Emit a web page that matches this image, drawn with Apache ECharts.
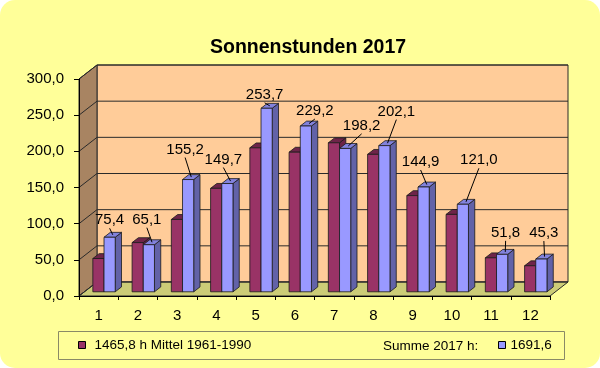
<!DOCTYPE html>
<html><head><meta charset="utf-8">
<script src="https://cdn.jsdelivr.net/npm/echarts@6/dist/echarts.min.js"></script>
<style>html,body{margin:0;padding:0;background:#fff}#c{width:600px;height:368px}</style>
</head><body><div id="c"></div>
<script>
const categories = ['1','2','3','4','5','6','7','8','9','10','11','12'];
const mean19611990 = [46, 68, 100, 143, 199, 193, 206, 190, 133, 107, 47, 36];
const sun2017 = [75.4, 65.1, 155.2, 149.7, 253.7, 229.2, 198.2, 202.1, 144.9, 121.0, 51.8, 45.3];
const yTicks = [0, 50, 100, 150, 200, 250, 300];
const seriesNames = ['1465,8 h Mittel 1961-1990', '1691,6'];
const sumLabel = 'Summe 2017 h:';
const titleText = 'Sonnenstunden 2017';
// manual label placement (pixel shift from the bar top), as in the original chart
const labelShift = [[0,-17],[-2,-25],[-3,-30],[-4,-24],[-2,-13.5],[9,-15],[16.5,-22.6],[12,-34],[-3,-25],[16,-44],[3.5,-21.5],[2.5,-26]];

const FONT = '"Liberation Sans", Arial, Helvetica, sans-serif';
const DEPTH = [18, 14];
const BAR_F0 = 0.3, BAR_F1 = 0.65, BAR_W = 0.285;
const LINE = '#2a2a2a';
const fmt = v => v.toFixed(1).replace('.', ',');

function renderWalls(params, api) {
  const bw = api.size([1, 0])[0];
  const n = categories.length;
  const L = api.coord([0, 0])[0] - bw / 2;
  const R = api.coord([n - 1, 0])[0] + bw / 2;
  const y0 = api.coord([0, yTicks[0]])[1];
  const yT = api.coord([0, yTicks[yTicks.length - 1]])[1];
  const dx = DEPTH[0], dy = DEPTH[1];
  const ch = [];
  ch.push({type: 'polygon', shape: {points: [[L + dx, yT - dy], [R + dx, yT - dy], [R + dx, y0 - dy], [L + dx, y0 - dy]]}, style: {fill: '#FFCC99', stroke: LINE, lineWidth: 1}});
  ch.push({type: 'polygon', shape: {points: [[L, y0], [L, yT], [L + dx, yT - dy], [L + dx, y0 - dy]]}, style: {fill: '#A88462', stroke: LINE, lineWidth: 1}});
  ch.push({type: 'polygon', shape: {points: [[L, y0], [R, y0], [R + dx, y0 - dy], [L + dx, y0 - dy]]}, style: {fill: '#CCCC77', stroke: LINE, lineWidth: 1}});
  yTicks.forEach(t => {
    const y = api.coord([0, t])[1];
    ch.push({type: 'line', shape: {x1: L, y1: y, x2: L + dx, y2: y - dy}, style: {stroke: LINE, lineWidth: 1}});
    ch.push({type: 'line', shape: {x1: L + dx, y1: y - dy, x2: R + dx, y2: y - dy}, style: {stroke: LINE, lineWidth: 1}});
  });
  return {type: 'group', children: ch};
}

function makeBarRender(side, front, topC, sideC, withLabels) {
  return function (params, api) {
    const i = api.value(0), v = api.value(1);
    const top = api.coord([i, v]);
    const base = api.coord([i, 0]);
    const bw = api.size([1, 0])[0];
    const w = bw * BAR_W;
    const sx = DEPTH[0] * BAR_F0, sy = DEPTH[1] * BAR_F0;
    const ddx = DEPTH[0] * (BAR_F1 - BAR_F0), ddy = DEPTH[1] * (BAR_F1 - BAR_F0);
    const x0 = top[0] + sx + (side < 0 ? -w : 0);
    const x1 = x0 + w;
    const yt = top[1] - sy, yb = base[1] - sy;
    const st = {stroke: '#1a1a1a', lineWidth: 0.8};
    const ch = [
      {type: 'polygon', shape: {points: [[x1, yt], [x1 + ddx, yt - ddy], [x1 + ddx, yb - ddy], [x1, yb]]}, style: Object.assign({fill: sideC}, st)},
      {type: 'polygon', shape: {points: [[x0, yt], [x1, yt], [x1 + ddx, yt - ddy], [x0 + ddx, yt - ddy]]}, style: Object.assign({fill: topC}, st)},
      {type: 'rect', shape: {x: x0, y: yt, width: w, height: yb - yt}, style: Object.assign({fill: front}, st)}
    ];
    if (withLabels) {
      const s = labelShift[i];
      const bx = (x0 + x1) / 2;
      const lx = bx + s[0], ly = yt + s[1];
      const ex = bx + ddx / 2, ey = yt - ddy / 2;
      if (ey - (ly + 8) > 3) {
        ch.push({type: 'line', z2: 50, shape: {x1: lx, y1: ly + 8, x2: ex, y2: ey}, style: {stroke: '#000', lineWidth: 1}});
      }
      ch.push({type: 'text', z2: 60, style: {text: fmt(v), x: lx, y: ly, align: 'center', verticalAlign: 'middle', fill: '#000', font: '15px ' + FONT}});
    }
    return {type: 'group', children: ch};
  };
}

const chart = echarts.init(document.getElementById('c'), null, {renderer: 'canvas'});
chart.setOption({
  animation: false,
  backgroundColor: '#ffffff',
  title: {text: titleText, left: 210, top: 38, padding: 0,
    textStyle: {fontFamily: FONT, fontSize: 19.5, fontWeight: 'bold', color: '#000'}},
  grid: {left: 79, right: 50, top: 79, bottom: 72, containLabel: false},
  xAxis: {type: 'category', data: categories, z: 5,
    axisLine: {lineStyle: {color: '#000', width: 1}},
    axisTick: {show: true, alignWithLabel: false, length: 4, lineStyle: {color: '#000'}},
    axisLabel: {margin: 12, fontFamily: FONT, fontSize: 15, color: '#000'},
    splitLine: {show: false}},
  yAxis: {type: 'value', min: yTicks[0], max: yTicks[yTicks.length - 1], interval: yTicks[1] - yTicks[0], z: 5,
    axisLine: {show: true, lineStyle: {color: '#000', width: 1}},
    axisTick: {show: true, length: 5, lineStyle: {color: '#000'}},
    axisLabel: {margin: 15, fontFamily: FONT, fontSize: 15, color: '#000', formatter: v => fmt(v)},
    splitLine: {show: false}},
  legend: [
    {data: [seriesNames[0]], left: 78, top: 338, padding: 0, itemWidth: 7, itemHeight: 7, icon: 'rect',
      itemStyle: {borderColor: '#000', borderWidth: 1},
      textStyle: {fontFamily: FONT, fontSize: 13.5, color: '#000', padding: [0, 0, 0, 4]}},
    {data: [seriesNames[1]], left: 498, top: 338, padding: 0, itemWidth: 7, itemHeight: 7, icon: 'rect',
      itemStyle: {borderColor: '#000', borderWidth: 1},
      textStyle: {fontFamily: FONT, fontSize: 13.5, color: '#000'}}
  ],
  graphic: [
    {type: 'rect', z: -10, silent: true, shape: {x: 0, y: 0, width: 600, height: 368, r: 15}, style: {fill: '#FFFF99'}},
    {type: 'rect', z: -5, silent: true, shape: {x: 58.5, y: 331.5, width: 506, height: 28}, style: {fill: 'none', stroke: '#8a8a66', lineWidth: 1}},
    {type: 'text', z: 1, silent: true, style: {text: sumLabel, x: 383, y: 346.5, verticalAlign: 'middle', fill: '#000', font: '13.5px ' + FONT}}
  ],
  series: [
    {type: 'custom', name: 'walls', z: 1, silent: true, clip: false, data: [[0, 0]], encode: {x: 0, y: 1}, renderItem: renderWalls},
    {type: 'custom', name: seriesNames[0], z: 2, clip: false, itemStyle: {color: '#993366'},
      data: mean19611990.map((v, i) => [i, v]), encode: {x: 0, y: 1},
      renderItem: makeBarRender(-1, '#993366', '#6E2449', '#6B2447', false)},
    {type: 'custom', name: seriesNames[1], z: 3, clip: false, itemStyle: {color: '#9999FF'},
      data: sun2017.map((v, i) => [i, v]), encode: {x: 0, y: 1},
      renderItem: makeBarRender(1, '#9999FF', '#8282DC', '#6262A8', true)}
  ]
});
</script></body></html>
